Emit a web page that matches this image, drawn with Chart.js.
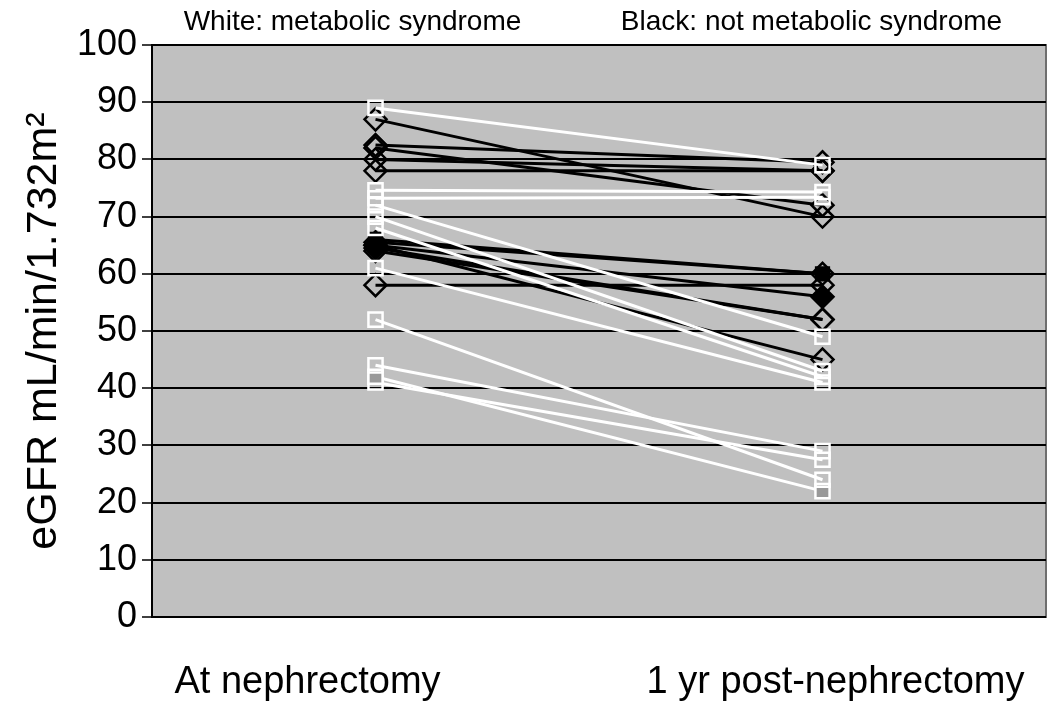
<!DOCTYPE html>
<html>
<head>
<meta charset="utf-8">
<script src="https://cdn.jsdelivr.net/npm/chart.js@4.4.1/dist/chart.umd.min.js"></script>
<style>
    html, body { margin: 0; padding: 0; background: #fff; overflow: hidden; }
    canvas { display: block; }
</style>
</head>
<body>
<canvas id="egfrChart" width="1050" height="710"></canvas>
<script>
// Data
const timepoints = ['At nephrectomy', '1 yr post-nephrectomy'];
const yTicks = [0, 10, 20, 30, 40, 50, 60, 70, 80, 90, 100];

// White lines: metabolic syndrome
const whiteBefore = [89, 74.6, 73.2, 72, 70, 68, 61, 52, 44, 42, 41];
const whiteAfter  = [79, 74.3, 73.4, 49, 43, 42, 41, 24, 29, 22, 27.5];

// Black lines: not metabolic syndrome
const blackBefore = [87, 82.5, 82, 80, 78, 66, 65.5, 65, 64.5, 64, 65, 58];
const blackAfter  = [70, 79.5, 72, 78, 78, 60, 60, 56, 52, 52, 45, 58];

const FONT = "'Liberation Sans', Arial, sans-serif";
const PLOT_BG = '#c0c0c0';

// Build one dataset per patient
const datasets = [];
whiteBefore.forEach((v, i) => {
    datasets.push({
        label: 'MetS ' + (i + 1),
        data: [v, whiteAfter[i]],
        borderColor: '#ffffff',
        borderWidth: 3,
        pointStyle: 'rect',
        pointRadius: 10,
        pointBorderWidth: 2.5,
        pointBorderColor: '#ffffff',
        pointBackgroundColor: i === 9 ? '#999999' : 'rgba(0,0,0,0)'
    });
});
blackBefore.forEach((v, i) => {
    datasets.push({
        label: 'No MetS ' + (i + 1),
        data: [v, blackAfter[i]],
        borderColor: '#000000',
        borderWidth: 3,
        pointStyle: i === 5 ? 'rect' : 'rectRot',
        pointRadius: i === 5 ? 9 : 11,
        pointBorderWidth: 2.5,
        pointBorderColor: '#000000',
        pointBackgroundColor: (i === 5 || i === 7) ? '#000000' : 'rgba(0,0,0,0)'
    });
});

// Gray plot area with border
const plotBackground = {
    id: 'plotBackground',
    beforeDraw(chart) {
        const { ctx, chartArea: a } = chart;
        ctx.save();
        ctx.fillStyle = PLOT_BG;
        ctx.fillRect(a.left, a.top, a.right - a.left, a.bottom - a.top);
        ctx.strokeStyle = '#6e6e6e';
        ctx.lineWidth = 2;
        ctx.strokeRect(a.left, a.top, a.right - a.left, a.bottom - a.top);
        ctx.restore();
    }
};

// Category labels and group notes
const labelsPlugin = {
    id: 'labelsPlugin',
    afterDraw(chart) {
        const { ctx, chartArea: a } = chart;
        const x = chart.scales.x;
        ctx.save();
        ctx.fillStyle = '#000';
        ctx.textAlign = 'center';
        ctx.textBaseline = 'middle';
        ctx.font = '38px ' + FONT;
        const shift = [-68, 13];
        timepoints.forEach((t, i) => {
            ctx.fillText(t, x.getPixelForValue(i) + shift[i], a.bottom + 66);
        });
        ctx.font = '28px ' + FONT;
        ctx.fillText('White: metabolic syndrome', x.getPixelForValue(0) - 23, a.top - 23);
        ctx.fillText('Black: not metabolic syndrome', x.getPixelForValue(1) - 11, a.top - 23);
        ctx.restore();
    }
};

const chart = new Chart(document.getElementById('egfrChart'), {
    type: 'line',
    data: { labels: timepoints, datasets: datasets },
    options: {
        responsive: false,
        animation: false,
        layout: { autoPadding: false, padding: { top: 45, right: 4, left: 0, bottom: 0 } },
        plugins: {
            legend: { display: false },
            tooltip: { enabled: false }
        },
        scales: {
            x: {
                offset: true,
                grid: { display: false },
                border: { display: false },
                ticks: { display: false },
                afterFit(scale) { scale.height = 93; }
            },
            y: {
                min: 0,
                max: 100,
                afterBuildTicks(scale) {
                    scale.ticks = yTicks.map(v => ({ value: v }));
                },
                afterFit(scale) { scale.width = 152; },
                grid: {
                    color: '#000000',
                    lineWidth: 2,
                    drawTicks: true,
                    tickLength: 10,
                    tickColor: '#000000',
                    tickWidth: 1.5
                },
                border: { display: true, color: '#000000', width: 2 },
                ticks: {
                    color: '#000',
                    padding: 5,
                    font: { family: FONT, size: 36 }
                },
                title: {
                    display: true,
                    text: 'eGFR mL/min/1.732m²',
                    color: '#000',
                    padding: { top: 18, bottom: 0 },
                    font: { family: FONT, size: 43 }
                }
            }
        }
    },
    plugins: [plotBackground, labelsPlugin]
});
</script>
</body>
</html>
